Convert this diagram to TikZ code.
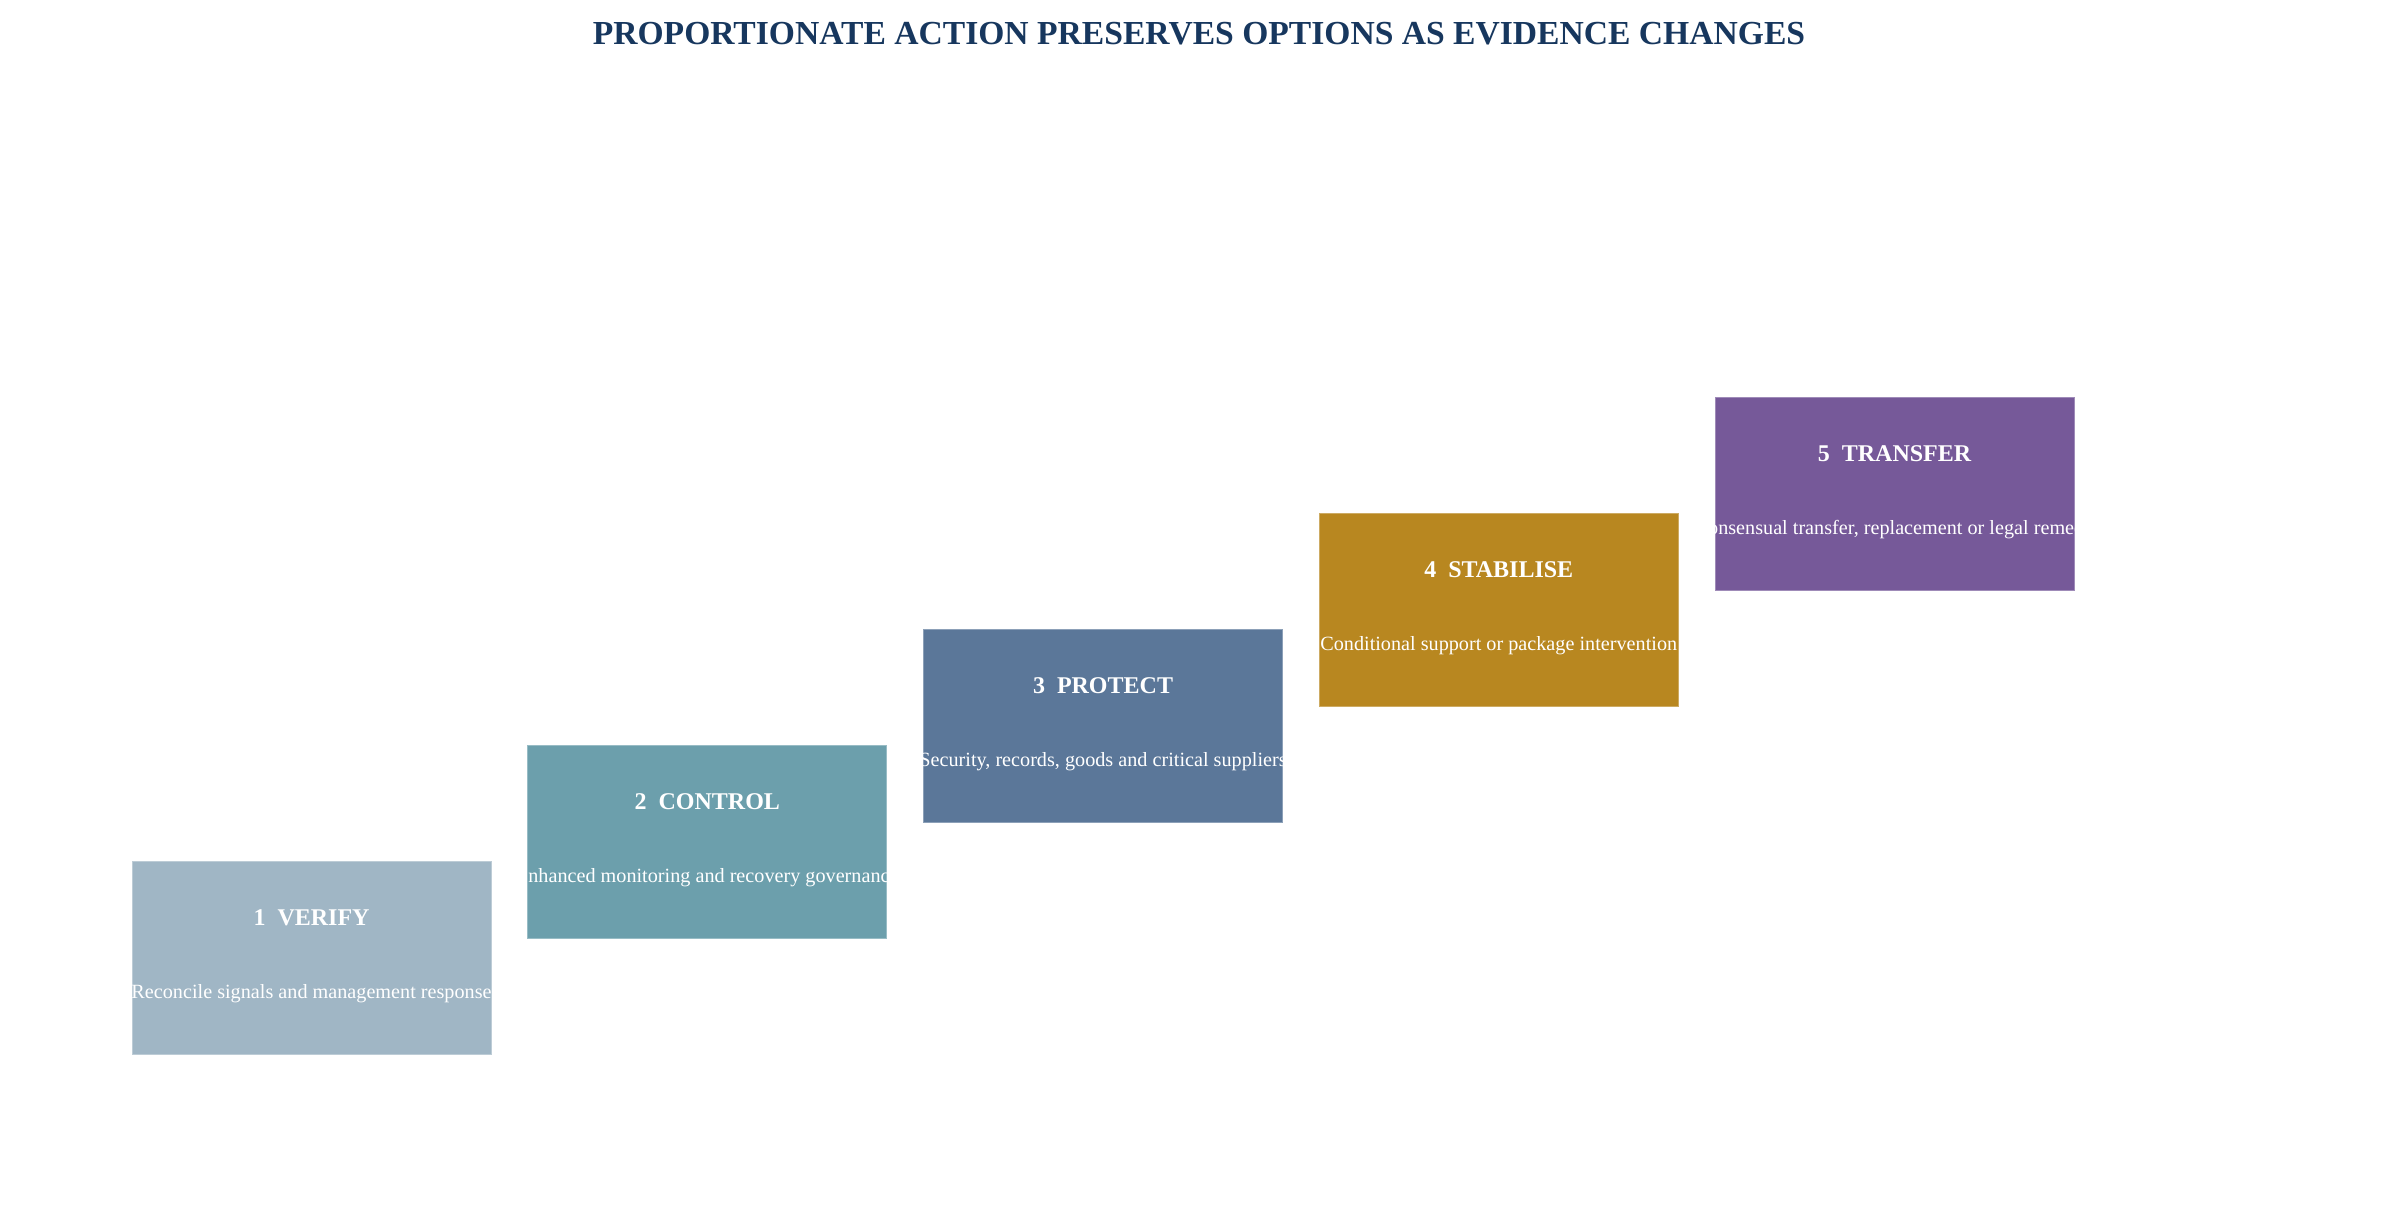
\documentclass[tikz,border=0pt]{standalone}
\usepackage{fontspec}
\setmainfont{Liberation Serif}
\definecolor{titlec}{HTML}{17375E}
\definecolor{cA}{HTML}{A0B6C5}
\definecolor{cB}{HTML}{6C9FAC}
\definecolor{cC}{HTML}{5B7799}
\definecolor{cD}{HTML}{B88720}
\definecolor{cE}{HTML}{765999}
\tikzset{
  stepbox/.style={rectangle, inner sep=0pt, minimum width=359pt, minimum height=193pt, line width=1pt},
  headtxt/.style={font=\fontsize{24}{28}\selectfont\bfseries, text=white, anchor=base, inner sep=0pt},
  subtxt/.style={font=\fontsize{20.2}{24}\selectfont, text=white, anchor=base, inner sep=0pt},
}
\begin{document}
\begin{tikzpicture}[x=1pt,y=-1pt]
\useasboundingbox (0,0) rectangle (2397,1210);
\node[font=\fontsize{33.6}{40}\selectfont\bfseries, text=titlec, inner sep=0pt] (title) at (1199,34) {PROPORTIONATE ACTION PRESERVES OPTIONS AS EVIDENCE CHANGES};
\foreach \i/\col/\head/\sub in {
  0/cA/{1\ \ VERIFY}/{Reconcile signals and management response},
  1/cB/{2\ \ CONTROL}/{Enhanced monitoring and recovery governance},
  2/cC/{3\ \ PROTECT}/{Security, records, goods and critical suppliers},
  3/cD/{4\ \ STABILISE}/{Conditional support or package intervention},
  4/cE/{5\ \ TRANSFER}/{Consensual transfer, replacement or legal remedy}}{
  \node[stepbox, fill=\col, draw=\col!70!white] (b\i) at ({132+395.75*\i+179.5},{861-116*\i+96.5}) {};
  \begin{scope}
    \clip (b\i.north west) rectangle (b\i.south east);
    \node[headtxt] (h\i) at ([yshift=-64.5pt]b\i.north) {\head};
    \node[subtxt] (s\i) at ([yshift=-137.5pt]b\i.north) {\sub};
  \end{scope}
}
\end{tikzpicture}
\end{document}
